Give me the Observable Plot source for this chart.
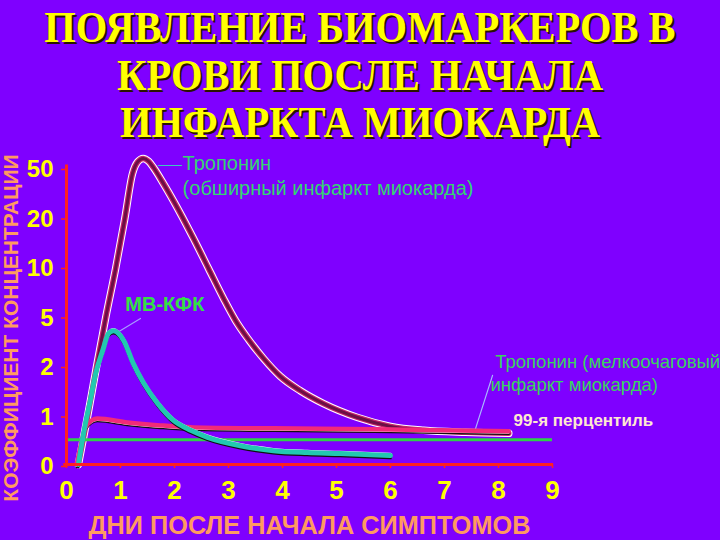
<!DOCTYPE html>
<html><head><meta charset="utf-8">
<script src="https://cdn.jsdelivr.net/npm/d3@7"></script>
<script src="https://cdn.jsdelivr.net/npm/@observablehq/plot@0.6"></script>
<style>
html,body{margin:0;padding:0;background:#7f00ff;}
#wrap{position:relative;width:720px;height:540px;overflow:hidden;background:#7f00ff;}
#title{position:absolute;left:0;top:4px;width:720px;text-align:center;font-family:"Liberation Serif","DejaVu Serif",serif;font-weight:bold;font-size:44px;line-height:47.5px;color:#ffff00;text-shadow:2px 2px 0 #2a1400;transform:scaleX(0.92);transform-origin:360px 0;white-space:nowrap;}
#chart{position:absolute;left:0;top:140px;}
</style></head>
<body><div id="wrap"><div id="title">ПОЯВЛЕНИЕ БИОМАРКЕРОВ В<br>КРОВИ ПОСЛЕ НАЧАЛА<br>ИНФАРКТА МИОКАРДА</div><div id="chart"></div></div>
<script>
// ---- data ----
const yTickLabels = [0, 1, 2, 5, 10, 20, 50];
const xTicks = [0, 1, 2, 3, 4, 5, 6, 7, 8, 9];

const tropLargeDays   = [0.22, 0.40, 0.56, 0.73, 0.91, 1.08, 1.22, 1.32, 1.42, 1.52, 1.61, 1.80, 2.07, 2.35, 2.63, 2.91, 3.13, 3.37, 3.65, 3.96, 4.33, 4.76, 5.39, 6.00, 6.61, 7.39, 8.19];
const tropLargeValues = [0,    1.03, 2,    4.97, 9.8,  19.7, 46,   53.5, 55.5, 53.8, 50,   40,   24.5, 15.7, 9.8,  6.75, 4.73, 3.58, 2.42, 1.78, 1.49, 1.23, 0.95, 0.77, 0.69, 0.65, 0.63];

const ckmbDays   = [0.22, 0.35, 0.44, 0.54, 0.67, 0.78, 0.87, 1.06, 1.24, 1.43, 1.69, 1.98, 2.30, 2.61, 3.22, 3.83, 4.46, 5.07, 6.00];
const ckmbValues = [0,    0.83, 1.29, 1.84, 2.9,  3.95, 4.1,  3.5,  2.1,  1.64, 1.23, 0.89, 0.69, 0.55, 0.38, 0.28, 0.24, 0.22, 0.18];

const tropSmallDays   = [0.19, 0.26, 0.37, 0.57, 1.13, 1.74, 2.35, 3.83, 5.69, 8.19];
const tropSmallValues = [0,    0.38, 0.79, 0.93, 0.85, 0.79, 0.75, 0.73, 0.71, 0.67];

const percentile99 = 0.5;

const labelTexts  = ["Тропонин", "(обширный инфаркт миокарда)", "МВ-КФК", "Тропонин (мелкоочаговый", "инфаркт миокарда)", "99-я перцентиль"];
const labelDays   = [2.15, 2.15, 1.09, 7.94, 7.85, 8.28];
const labelValues = [52.4, 37.4, 6.15, 2.18, 1.6, 0.89];

const leaderDays   = [[1.70, 2.13], [0.91, 1.37], [7.57, 7.89]];
const leaderValues = [[51.2, 51.2], [3.94, 4.85], [0.71, 1.8]];

const yTitle = "КОЭФФИЦИЕНТ КОНЦЕНТРАЦИИ";
const xTitle = "ДНИ ПОСЛЕ НАЧАЛА СИМПТОМОВ";

// ---- scales: the value axis is a piecewise (pseudo-log) scale ----
const toIdx = d3.scaleLinear().domain(yTickLabels).range(d3.range(yTickLabels.length));
const pts = (days, vals) => days.map((d, i) => ({day: d, v: toIdx(vals[i])}));
const large = pts(tropLargeDays, tropLargeValues);
const ckmb = pts(ckmbDays, ckmbValues);
const small = pts(tropSmallDays, tropSmallValues);
const labels = labelTexts.map((t, i) => ({i, t, day: labelDays[i], v: toIdx(labelValues[i])}));
const leaders = leaderDays.flatMap((ds, k) => ds.map((d, j) => ({k, day: d, v: toIdx(leaderValues[k][j])})));

const L = {x: "day", y: "v", curve: "monotone-x", strokeLinejoin: "round", strokeLinecap: "round"};
const T = {x: "day", y: "v", text: "t", textAnchor: "start"};
const font = "Liberation Sans, Arial, sans-serif";

const plot = Plot.plot({
  width: 720, height: 400,
  marginLeft: 66, marginRight: 168, marginTop: 27, marginBottom: 76,
  style: {background: "transparent", fontFamily: font, overflow: "visible"},
  x: {domain: [0, 9]},
  y: {domain: [0, 6]},
  marks: [
    Plot.axisX({ticks: xTicks, tickSize: 4, tickPadding: 12, stroke: "#ff2020", fill: "#ffff00", fontSize: 26, fontWeight: "bold", label: null, strokeWidth: 1.5}),
    Plot.axisY({ticks: d3.range(yTickLabels.length), tickFormat: i => yTickLabels[i], tickSize: 5, tickPadding: 8, stroke: "#ff2020", fill: "#ffff00", fontSize: 24, fontWeight: "bold", label: null, strokeWidth: 1.5, dy: 2}),
    // leader lines
    Plot.line(leaders, {x: "day", y: "v", z: "k", stroke: d => ["#3cc8c0", "#a89cff", "#a8b8ff"][d.k], strokeWidth: 1.2}),
    // troponin, large infarct
    Plot.line(large, {...L, stroke: "white", strokeWidth: 7.5}),
    Plot.line(large, {...L, stroke: "#c8246a", strokeWidth: 5.5}),
    Plot.line(large, {...L, stroke: "#6a0f45", strokeWidth: 3}),
    // troponin, small infarct
    Plot.line(small, {...L, stroke: "#101010", strokeWidth: 2.5, dy: 2.5}),
    Plot.line(small, {...L, stroke: "white", strokeWidth: 2, dy: 1.5}),
    Plot.line(small, {...L, stroke: "#f22a78", strokeWidth: 4.5}),
    // 99th percentile
    Plot.ruleY([percentile99], {y: d => toIdx(d), x1: 0, x2: 9, stroke: "#2ed04a", strokeWidth: 3}),
    // CK-MB
    Plot.line(ckmb, {...L, stroke: "#101010", strokeWidth: 2.5, dy: 2.5}),
    Plot.line(ckmb, {...L, stroke: "white", strokeWidth: 2.5, dy: -1.5}),
    Plot.line(ckmb, {...L, stroke: "#22c8b0", strokeWidth: 5}),
    // axis lines
    Plot.ruleX([0], {y1: -0.05, y2: 6.05, stroke: "#ff2020", strokeWidth: 3}),
    Plot.ruleY([0], {x1: -0.05, x2: 9.02, stroke: "#ff2020", strokeWidth: 3}),
    // labels
    Plot.text(labels.filter(d => d.i < 2), {...T, fontSize: 20, fill: "#35d472"}),
    Plot.text(labels.filter(d => d.i === 2), {...T, fontSize: 20, fontWeight: "bold", fill: "#33e046"}),
    Plot.text(labels.filter(d => d.i === 3 || d.i === 4), {...T, fontSize: 18.5, fill: "#3ad45e"}),
    Plot.text(labels.filter(d => d.i === 5), {...T, fontSize: 17, fontWeight: "bold", fill: "#ffe8d0"}),
    // axis titles
    Plot.text([yTitle], {frameAnchor: "left", textAnchor: "middle", lineAnchor: "middle", rotate: -90, dx: -55, dy: 12, fontSize: 21, fontWeight: "bold", fill: "#ff9a60"}),
    Plot.text([xTitle], {frameAnchor: "bottom", textAnchor: "middle", dy: 69, fontSize: 25, fontWeight: "bold", fill: "#ff9a60"})
  ]
});
document.getElementById("chart").appendChild(plot);
d3.select(plot).selectAll("text").each(function() {
  if (this.textContent === xTitle) { this.setAttribute("textLength", 442); this.setAttribute("lengthAdjust", "spacingAndGlyphs"); }
});
</script>
</body></html>
